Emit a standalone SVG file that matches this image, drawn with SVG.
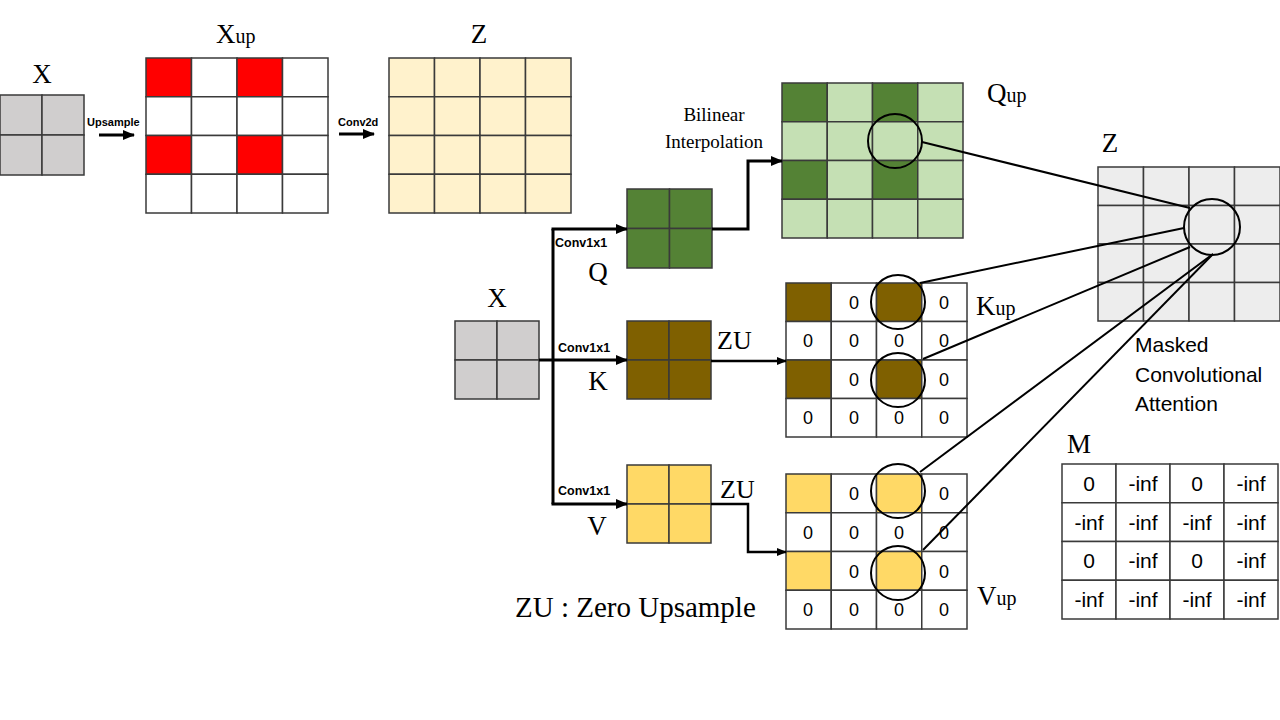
<svg xmlns="http://www.w3.org/2000/svg" width="1280" height="720" viewBox="0 0 1280 720">
<defs>
<marker id="ah" markerUnits="userSpaceOnUse" markerWidth="12" markerHeight="10" refX="11" refY="5" orient="auto">
<path d="M0,0 L12,5 L0,10 Z" fill="#000"/>
</marker>
<marker id="ahs" markerUnits="userSpaceOnUse" markerWidth="10" markerHeight="8" refX="9" refY="4" orient="auto">
<path d="M0,0 L10,4 L0,8 Z" fill="#000"/>
</marker>
<style>
.g rect{stroke:#3a3a3a;stroke-width:1.5}
.gray{fill:#D0CECE}.red{fill:#FF0000}.wh{fill:#FFFFFF}.cream{fill:#FFF2CC}
.dg{fill:#548235}.lg{fill:#C5E0B4}.br{fill:#7F6000}.yl{fill:#FFD966}.lgr{fill:#EDEDED}
.serif{font-family:"Liberation Serif","Times New Roman",serif;fill:#000}
.sans{font-family:"Liberation Sans",Arial,sans-serif;fill:#000}
.small{font-family:"Liberation Sans",Arial,sans-serif;font-weight:bold;fill:#000}
.num{font-family:"Liberation Sans",Arial,sans-serif;font-size:18px;text-anchor:middle;fill:#000}
.mnum{font-family:"Liberation Sans",Arial,sans-serif;font-size:21px;text-anchor:middle;fill:#000}
.circ{fill:none;stroke:#000;stroke-width:2}
.conn{fill:none;stroke:#000}
.lbl{font-size:27px}
.sub{font-size:20px}
</style>
</defs>
<rect width="1280" height="720" fill="#fff"/>

<g id="x-top" class="g">
<rect class="gray" x="0" y="95" width="42" height="40"/><rect class="gray" x="42" y="95" width="42" height="40"/>
<rect class="gray" x="0" y="135" width="42" height="40"/><rect class="gray" x="42" y="135" width="42" height="40"/>
<text class="serif lbl" x="42" y="83" text-anchor="middle">X</text>
</g>

<g id="xup" class="g">
<rect class="red" x="146" y="58" width="45.5" height="38.75"/><rect class="wh" x="191.5" y="58" width="45.5" height="38.75"/><rect class="red" x="237" y="58" width="45.5" height="38.75"/><rect class="wh" x="282.5" y="58" width="45.5" height="38.75"/>
<rect class="wh" x="146" y="96.75" width="45.5" height="38.75"/><rect class="wh" x="191.5" y="96.75" width="45.5" height="38.75"/><rect class="wh" x="237" y="96.75" width="45.5" height="38.75"/><rect class="wh" x="282.5" y="96.75" width="45.5" height="38.75"/>
<rect class="red" x="146" y="135.5" width="45.5" height="38.75"/><rect class="wh" x="191.5" y="135.5" width="45.5" height="38.75"/><rect class="red" x="237" y="135.5" width="45.5" height="38.75"/><rect class="wh" x="282.5" y="135.5" width="45.5" height="38.75"/>
<rect class="wh" x="146" y="174.25" width="45.5" height="38.75"/><rect class="wh" x="191.5" y="174.25" width="45.5" height="38.75"/><rect class="wh" x="237" y="174.25" width="45.5" height="38.75"/><rect class="wh" x="282.5" y="174.25" width="45.5" height="38.75"/>
<text class="serif lbl" x="216" y="43">X<tspan class="sub">up</tspan></text>
</g>

<g id="z-top" class="g">
<rect class="cream" x="389" y="58" width="45.5" height="38.75"/><rect class="cream" x="434.5" y="58" width="45.5" height="38.75"/><rect class="cream" x="480" y="58" width="45.5" height="38.75"/><rect class="cream" x="525.5" y="58" width="45.5" height="38.75"/>
<rect class="cream" x="389" y="96.75" width="45.5" height="38.75"/><rect class="cream" x="434.5" y="96.75" width="45.5" height="38.75"/><rect class="cream" x="480" y="96.75" width="45.5" height="38.75"/><rect class="cream" x="525.5" y="96.75" width="45.5" height="38.75"/>
<rect class="cream" x="389" y="135.5" width="45.5" height="38.75"/><rect class="cream" x="434.5" y="135.5" width="45.5" height="38.75"/><rect class="cream" x="480" y="135.5" width="45.5" height="38.75"/><rect class="cream" x="525.5" y="135.5" width="45.5" height="38.75"/>
<rect class="cream" x="389" y="174.25" width="45.5" height="38.75"/><rect class="cream" x="434.5" y="174.25" width="45.5" height="38.75"/><rect class="cream" x="480" y="174.25" width="45.5" height="38.75"/><rect class="cream" x="525.5" y="174.25" width="45.5" height="38.75"/>
<text class="serif lbl" x="479" y="43" text-anchor="middle">Z</text>
</g>

<g id="x-mid" class="g">
<rect class="gray" x="455" y="321" width="42" height="39"/><rect class="gray" x="497" y="321" width="42" height="39"/>
<rect class="gray" x="455" y="360" width="42" height="39"/><rect class="gray" x="497" y="360" width="42" height="39"/>
<text class="serif lbl" x="497" y="307" text-anchor="middle">X</text>
</g>

<g id="q" class="g">
<rect class="dg" x="627" y="189" width="42.5" height="39.5"/><rect class="dg" x="669.5" y="189" width="42.5" height="39.5"/>
<rect class="dg" x="627" y="228.5" width="42.5" height="39.5"/><rect class="dg" x="669.5" y="228.5" width="42.5" height="39.5"/>
<text class="serif lbl" x="598" y="281" text-anchor="middle">Q</text>
</g>

<g id="k" class="g">
<rect class="br" x="627" y="321" width="42" height="39"/><rect class="br" x="669" y="321" width="42" height="39"/>
<rect class="br" x="627" y="360" width="42" height="39"/><rect class="br" x="669" y="360" width="42" height="39"/>
<text class="serif lbl" x="598" y="390" text-anchor="middle">K</text>
</g>

<g id="v" class="g">
<rect class="yl" x="627" y="465" width="42" height="39"/><rect class="yl" x="669" y="465" width="42" height="39"/>
<rect class="yl" x="627" y="504" width="42" height="39"/><rect class="yl" x="669" y="504" width="42" height="39"/>
<text class="serif lbl" x="597" y="535" text-anchor="middle">V</text>
</g>

<g id="qup" class="g">
<rect class="dg" x="782" y="83" width="45.25" height="38.75"/><rect class="lg" x="827.25" y="83" width="45.25" height="38.75"/><rect class="dg" x="872.5" y="83" width="45.25" height="38.75"/><rect class="lg" x="917.75" y="83" width="45.25" height="38.75"/>
<rect class="lg" x="782" y="121.75" width="45.25" height="38.75"/><rect class="lg" x="827.25" y="121.75" width="45.25" height="38.75"/><rect class="lg" x="872.5" y="121.75" width="45.25" height="38.75"/><rect class="lg" x="917.75" y="121.75" width="45.25" height="38.75"/>
<rect class="dg" x="782" y="160.5" width="45.25" height="38.75"/><rect class="lg" x="827.25" y="160.5" width="45.25" height="38.75"/><rect class="dg" x="872.5" y="160.5" width="45.25" height="38.75"/><rect class="lg" x="917.75" y="160.5" width="45.25" height="38.75"/>
<rect class="lg" x="782" y="199.25" width="45.25" height="38.75"/><rect class="lg" x="827.25" y="199.25" width="45.25" height="38.75"/><rect class="lg" x="872.5" y="199.25" width="45.25" height="38.75"/><rect class="lg" x="917.75" y="199.25" width="45.25" height="38.75"/>
<circle class="circ" cx="895" cy="141" r="27"/>
<text class="serif lbl" x="987" y="102">Q<tspan class="sub">up</tspan></text>
</g>

<g id="kup" class="g">
<rect class="br" x="786" y="283" width="45.25" height="38.5"/><rect class="wh" x="831.25" y="283" width="45.25" height="38.5"/><rect class="br" x="876.5" y="283" width="45.25" height="38.5"/><rect class="wh" x="921.75" y="283" width="45.25" height="38.5"/>
<rect class="wh" x="786" y="321.5" width="45.25" height="38.5"/><rect class="wh" x="831.25" y="321.5" width="45.25" height="38.5"/><rect class="wh" x="876.5" y="321.5" width="45.25" height="38.5"/><rect class="wh" x="921.75" y="321.5" width="45.25" height="38.5"/>
<rect class="br" x="786" y="360" width="45.25" height="38.5"/><rect class="wh" x="831.25" y="360" width="45.25" height="38.5"/><rect class="br" x="876.5" y="360" width="45.25" height="38.5"/><rect class="wh" x="921.75" y="360" width="45.25" height="38.5"/>
<rect class="wh" x="786" y="398.5" width="45.25" height="38.5"/><rect class="wh" x="831.25" y="398.5" width="45.25" height="38.5"/><rect class="wh" x="876.5" y="398.5" width="45.25" height="38.5"/><rect class="wh" x="921.75" y="398.5" width="45.25" height="38.5"/>
<text class="num" x="854" y="309">0</text><text class="num" x="944" y="309">0</text>
<text class="num" x="808" y="347">0</text><text class="num" x="854" y="347">0</text><text class="num" x="899" y="347">0</text><text class="num" x="944" y="347">0</text>
<text class="num" x="854" y="386">0</text><text class="num" x="944" y="386">0</text>
<text class="num" x="808" y="424">0</text><text class="num" x="854" y="424">0</text><text class="num" x="899" y="424">0</text><text class="num" x="944" y="424">0</text>
<circle class="circ" cx="898" cy="302" r="27"/>
<circle class="circ" cx="898" cy="380" r="27"/>
<text class="serif lbl" x="976" y="315">K<tspan class="sub">up</tspan></text>
</g>

<g id="vup" class="g">
<rect class="yl" x="786" y="474" width="45.25" height="38.75"/><rect class="wh" x="831.25" y="474" width="45.25" height="38.75"/><rect class="yl" x="876.5" y="474" width="45.25" height="38.75"/><rect class="wh" x="921.75" y="474" width="45.25" height="38.75"/>
<rect class="wh" x="786" y="512.75" width="45.25" height="38.75"/><rect class="wh" x="831.25" y="512.75" width="45.25" height="38.75"/><rect class="wh" x="876.5" y="512.75" width="45.25" height="38.75"/><rect class="wh" x="921.75" y="512.75" width="45.25" height="38.75"/>
<rect class="yl" x="786" y="551.5" width="45.25" height="38.75"/><rect class="wh" x="831.25" y="551.5" width="45.25" height="38.75"/><rect class="yl" x="876.5" y="551.5" width="45.25" height="38.75"/><rect class="wh" x="921.75" y="551.5" width="45.25" height="38.75"/>
<rect class="wh" x="786" y="590.25" width="45.25" height="38.75"/><rect class="wh" x="831.25" y="590.25" width="45.25" height="38.75"/><rect class="wh" x="876.5" y="590.25" width="45.25" height="38.75"/><rect class="wh" x="921.75" y="590.25" width="45.25" height="38.75"/>
<text class="num" x="854" y="500">0</text><text class="num" x="944" y="500">0</text>
<text class="num" x="808" y="539">0</text><text class="num" x="854" y="539">0</text><text class="num" x="899" y="539">0</text><text class="num" x="944" y="539">0</text>
<text class="num" x="854" y="578">0</text><text class="num" x="944" y="578">0</text>
<text class="num" x="808" y="616">0</text><text class="num" x="854" y="616">0</text><text class="num" x="899" y="616">0</text><text class="num" x="944" y="616">0</text>
<circle class="circ" cx="898" cy="491" r="27"/>
<circle class="circ" cx="898" cy="573" r="27"/>
<text class="serif lbl" x="977" y="605">V<tspan class="sub">up</tspan></text>
</g>

<g id="z-right" class="g">
<rect class="lgr" x="1098" y="167" width="45.5" height="38.5"/><rect class="lgr" x="1143.5" y="167" width="45.5" height="38.5"/><rect class="lgr" x="1189" y="167" width="45.5" height="38.5"/><rect class="lgr" x="1234.5" y="167" width="45.5" height="38.5"/>
<rect class="lgr" x="1098" y="205.5" width="45.5" height="38.5"/><rect class="lgr" x="1143.5" y="205.5" width="45.5" height="38.5"/><rect class="lgr" x="1189" y="205.5" width="45.5" height="38.5"/><rect class="lgr" x="1234.5" y="205.5" width="45.5" height="38.5"/>
<rect class="lgr" x="1098" y="244" width="45.5" height="38.5"/><rect class="lgr" x="1143.5" y="244" width="45.5" height="38.5"/><rect class="lgr" x="1189" y="244" width="45.5" height="38.5"/><rect class="lgr" x="1234.5" y="244" width="45.5" height="38.5"/>
<rect class="lgr" x="1098" y="282.5" width="45.5" height="38.5"/><rect class="lgr" x="1143.5" y="282.5" width="45.5" height="38.5"/><rect class="lgr" x="1189" y="282.5" width="45.5" height="38.5"/><rect class="lgr" x="1234.5" y="282.5" width="45.5" height="38.5"/>
<circle class="circ" cx="1212" cy="227" r="28"/>
<text class="serif lbl" x="1110" y="152" text-anchor="middle">Z</text>
<text class="sans" x="1135" y="352" font-size="21">Masked</text>
<text class="sans" x="1135" y="382" font-size="21">Convolutional</text>
<text class="sans" x="1135" y="411" font-size="21">Attention</text>
</g>

<g id="m" class="g">
<rect class="wh" x="1062" y="464" width="54" height="38.75"/><rect class="wh" x="1116" y="464" width="54" height="38.75"/><rect class="wh" x="1170" y="464" width="54" height="38.75"/><rect class="wh" x="1224" y="464" width="54" height="38.75"/>
<rect class="wh" x="1062" y="502.75" width="54" height="38.75"/><rect class="wh" x="1116" y="502.75" width="54" height="38.75"/><rect class="wh" x="1170" y="502.75" width="54" height="38.75"/><rect class="wh" x="1224" y="502.75" width="54" height="38.75"/>
<rect class="wh" x="1062" y="541.5" width="54" height="38.75"/><rect class="wh" x="1116" y="541.5" width="54" height="38.75"/><rect class="wh" x="1170" y="541.5" width="54" height="38.75"/><rect class="wh" x="1224" y="541.5" width="54" height="38.75"/>
<rect class="wh" x="1062" y="580.25" width="54" height="38.75"/><rect class="wh" x="1116" y="580.25" width="54" height="38.75"/><rect class="wh" x="1170" y="580.25" width="54" height="38.75"/><rect class="wh" x="1224" y="580.25" width="54" height="38.75"/>
<text class="mnum" x="1089" y="491">0</text><text class="mnum" x="1143" y="491">-inf</text><text class="mnum" x="1197" y="491">0</text><text class="mnum" x="1251" y="491">-inf</text>
<text class="mnum" x="1089" y="530">-inf</text><text class="mnum" x="1143" y="530">-inf</text><text class="mnum" x="1197" y="530">-inf</text><text class="mnum" x="1251" y="530">-inf</text>
<text class="mnum" x="1089" y="568">0</text><text class="mnum" x="1143" y="568">-inf</text><text class="mnum" x="1197" y="568">0</text><text class="mnum" x="1251" y="568">-inf</text>
<text class="mnum" x="1089" y="607">-inf</text><text class="mnum" x="1143" y="607">-inf</text><text class="mnum" x="1197" y="607">-inf</text><text class="mnum" x="1251" y="607">-inf</text>
<text class="serif lbl" x="1067" y="453">M</text>
</g>

<g id="connectors">
<line class="conn" x1="99" y1="135" x2="134" y2="135" stroke-width="3" marker-end="url(#ah)"/>
<line class="conn" x1="339" y1="134" x2="374" y2="134" stroke-width="3" marker-end="url(#ah)"/>
<line class="conn" x1="539" y1="360" x2="553" y2="360" stroke-width="3"/>
<line class="conn" x1="553" y1="229" x2="553" y2="504" stroke-width="3"/>
<line class="conn" x1="551.5" y1="229" x2="627" y2="229" stroke-width="3" marker-end="url(#ah)"/>
<line class="conn" x1="553" y1="360" x2="627" y2="360" stroke-width="3" marker-end="url(#ah)"/>
<line class="conn" x1="551.5" y1="504" x2="627" y2="504" stroke-width="3" marker-end="url(#ah)"/>
<polyline class="conn" points="712,229 748,229 748,161 782,161" stroke-width="3" marker-end="url(#ah)"/>
<line class="conn" x1="711" y1="361" x2="786" y2="361" stroke-width="2.5" marker-end="url(#ahs)"/>
<polyline class="conn" points="711,504 748,504 748,552 786,552" stroke-width="2.5" marker-end="url(#ahs)"/>
<line class="conn" x1="922" y1="142" x2="1190" y2="208" stroke-width="2"/>
<line class="conn" x1="920" y1="283" x2="1184" y2="228" stroke-width="2"/>
<line class="conn" x1="923" y1="359" x2="1190" y2="247" stroke-width="2"/>
<line class="conn" x1="920" y1="472" x2="1213" y2="254" stroke-width="2"/>
<line class="conn" x1="923" y1="550" x2="1213" y2="254" stroke-width="2"/>
</g>

<g id="labels">
<text class="small" x="87" y="126" font-size="11">Upsample</text>
<text class="small" x="338" y="126" font-size="11">Conv2d</text>
<text class="small" x="555" y="247" font-size="12.5">Conv1x1</text>
<text class="small" x="558" y="352" font-size="12.5">Conv1x1</text>
<text class="small" x="558" y="495" font-size="12.5">Conv1x1</text>
<text class="serif" x="714" y="121" font-size="19" text-anchor="middle">Bilinear</text>
<text class="serif" x="714" y="148" font-size="19" text-anchor="middle">Interpolation</text>
<text class="serif" x="717" y="349" font-size="26">ZU</text>
<text class="serif" x="720" y="498" font-size="26">ZU</text>
<text class="serif" x="515" y="617" font-size="29">ZU : Zero Upsample</text>
</g>
</svg>
